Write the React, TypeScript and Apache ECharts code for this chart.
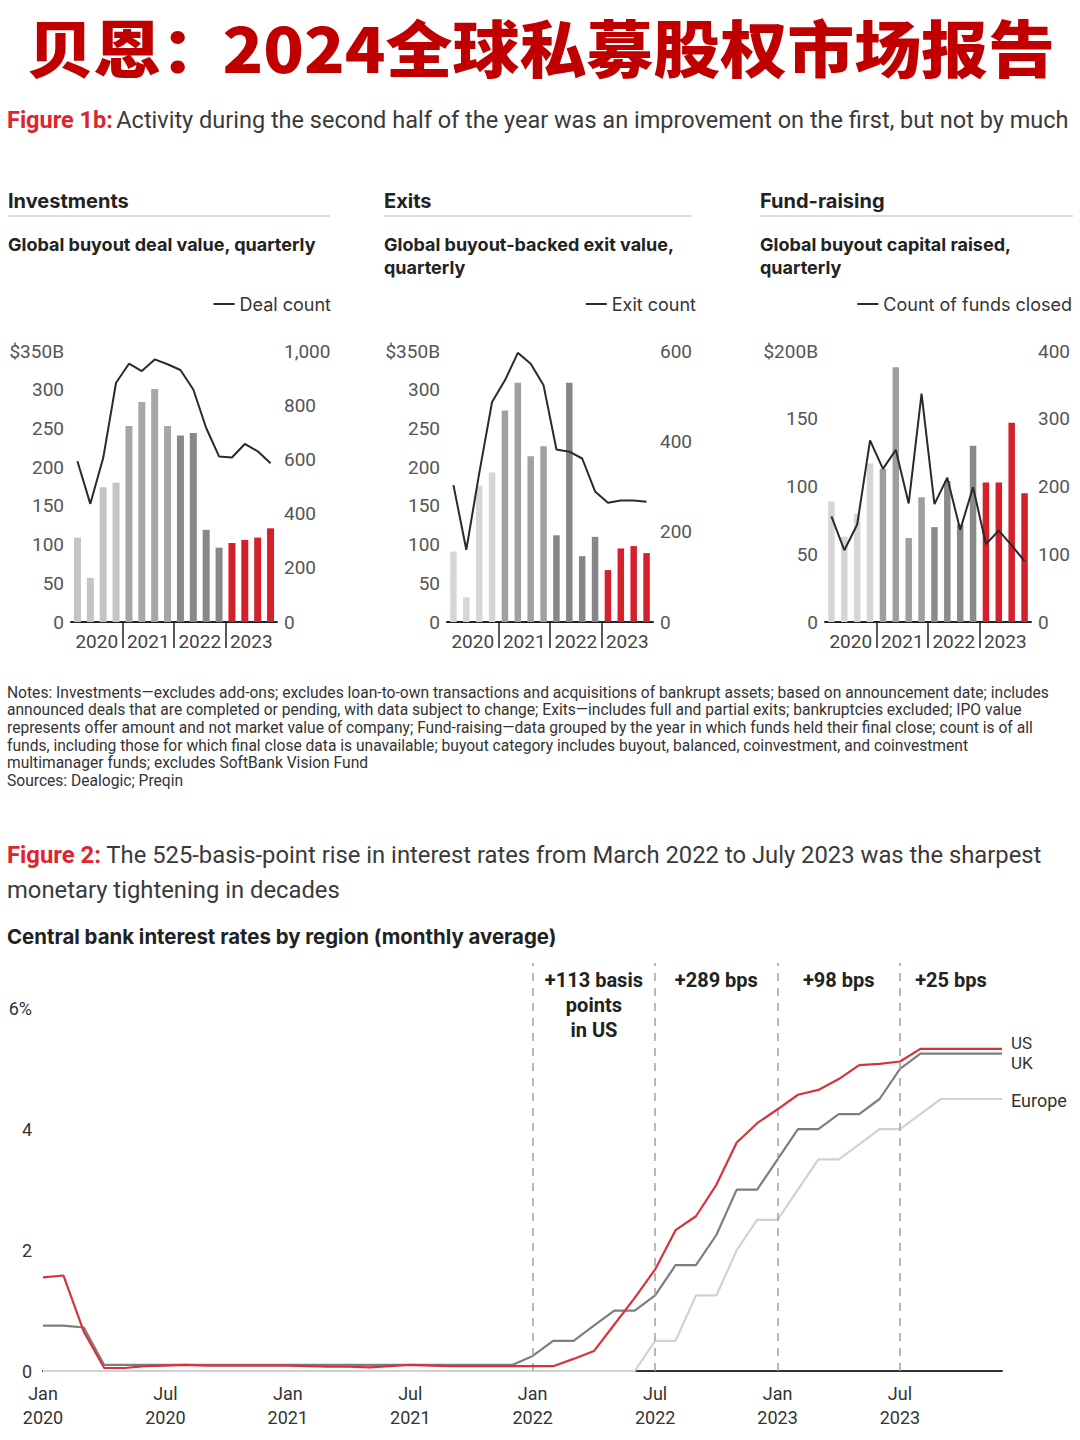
import React, { useEffect, useRef } from 'react';
import * as echarts from 'echarts';

// ---------- data: Figure 1b ----------
const QUARTERS = [
  '2020 Q1', '2020 Q2', '2020 Q3', '2020 Q4',
  '2021 Q1', '2021 Q2', '2021 Q3', '2021 Q4',
  '2022 Q1', '2022 Q2', '2022 Q3', '2022 Q4',
  '2023 Q1', '2023 Q2', '2023 Q3', '2023 Q4',
];
const YEAR_SLOTS = ['s0', '2020', 's2', '2021', 's4', '2022', 's6', '2023', 's8'];

const DEAL_VALUE = [109, 57, 174, 180, 253, 284, 301, 253, 241, 244, 119, 96, 102, 106, 109, 121];
const DEAL_COUNT = [593, 436, 605, 883, 953, 926, 969, 951, 930, 858, 716, 611, 607, 657, 630, 586];
const EXIT_VALUE = [91, 32, 176, 193, 273, 309, 214, 227, 112, 309, 85, 110, 67, 95, 98, 89];
const EXIT_COUNT = [303, 160, 329, 487, 535, 596, 572, 524, 382, 377, 362, 289, 264, 269, 269, 266];
const FUNDS_RAISED = [89, 63, 80, 117, 113, 188, 62, 92, 70, 104, 72, 130, 103, 103, 147, 95];
const FUNDS_COUNT = [156, 106, 144, 268, 226, 254, 175, 337, 174, 213, 136, 199, 115, 135, 113, 90];

// ---------- data: Figure 2 ----------
const MONTHS = [
  'Jan 2020', 'Feb 2020', 'Mar 2020', 'Apr 2020', 'May 2020', 'Jun 2020', 'Jul 2020', 'Aug 2020', 'Sep 2020', 'Oct 2020', 'Nov 2020', 'Dec 2020',
  'Jan 2021', 'Feb 2021', 'Mar 2021', 'Apr 2021', 'May 2021', 'Jun 2021', 'Jul 2021', 'Aug 2021', 'Sep 2021', 'Oct 2021', 'Nov 2021', 'Dec 2021',
  'Jan 2022', 'Feb 2022', 'Mar 2022', 'Apr 2022', 'May 2022', 'Jun 2022', 'Jul 2022', 'Aug 2022', 'Sep 2022', 'Oct 2022', 'Nov 2022', 'Dec 2022',
  'Jan 2023', 'Feb 2023', 'Mar 2023', 'Apr 2023', 'May 2023', 'Jun 2023', 'Jul 2023', 'Aug 2023', 'Sep 2023', 'Oct 2023', 'Nov 2023', 'Dec 2023',
];
const US_RATE = [
  1.55, 1.58, 0.65, 0.05, 0.05, 0.08, 0.09, 0.10, 0.09, 0.09, 0.09, 0.09,
  0.09, 0.08, 0.07, 0.07, 0.06, 0.08, 0.10, 0.09, 0.08, 0.08, 0.08, 0.08,
  0.08, 0.08, 0.20, 0.33, 0.77, 1.21, 1.68, 2.33, 2.56, 3.08, 3.78, 4.10,
  4.33, 4.57, 4.65, 4.83, 5.06, 5.08, 5.12, 5.33, 5.33, 5.33, 5.33, 5.33,
];
const UK_RATE = [
  0.75, 0.75, 0.72, 0.10, 0.10, 0.10, 0.10, 0.10, 0.10, 0.10, 0.10, 0.10,
  0.10, 0.10, 0.10, 0.10, 0.10, 0.10, 0.10, 0.10, 0.10, 0.10, 0.10, 0.10,
  0.25, 0.50, 0.50, 0.75, 1.00, 1.00, 1.25, 1.75, 1.75, 2.25, 3.00, 3.00,
  3.50, 4.00, 4.00, 4.25, 4.25, 4.50, 5.00, 5.25, 5.25, 5.25, 5.25, 5.25,
];
const EUROPE_RATE = [
  0, 0, 0, 0, 0, 0, 0, 0, 0, 0, 0, 0,
  0, 0, 0, 0, 0, 0, 0, 0, 0, 0, 0, 0,
  0, 0, 0, 0, 0, 0, 0.50, 0.50, 1.25, 1.25, 2.00, 2.50,
  2.50, 3.00, 3.50, 3.50, 3.75, 4.00, 4.00, 4.25, 4.50, 4.50, 4.50, 4.50,
];
const PERIODS = [
  { from: 'Jan 2022', to: 'Jul 2022', label: '+113 basis\npoints\nin US' },
  { from: 'Jul 2022', to: 'Jan 2023', label: '+289 bps' },
  { from: 'Jan 2023', to: 'Jul 2023', label: '+98 bps' },
  { from: 'Jul 2023', to: 'Dec 2023', label: '+25 bps' },
];
const DASH_MONTHS = ['Jan 2022', 'Jul 2022', 'Jan 2023', 'Jul 2023'];

const NOTES = [
  'Notes: Investments\u2014excludes add-ons; excludes loan-to-own transactions and acquisitions of bankrupt assets; based on announcement date; includes',
  'announced deals that are completed or pending, with data subject to change; Exits\u2014includes full and partial exits; bankruptcies excluded; IPO value',
  'represents offer amount and not market value of company; Fund-raising\u2014data grouped by the year in which funds held their final close; count is of all',
  'funds, including those for which final close data is unavailable; buyout category includes buyout, balanced, coinvestment, and coinvestment',
  'multimanager funds; excludes SoftBank Vision Fund',
  'Sources: Dealogic; Preqin',
];

const RED = '#d3202b';
const FONT = 'Roboto, "Noto Sans", sans-serif';
const HFONT = 'Inter, Roboto, sans-serif';
const TITLE_FONT = '900 62px "Noto Sans CJK SC"';

const SMALL = [
  {
    left: 71, values: DEAL_VALUE, counts: DEAL_COUNT, lMax: 350, lInt: 50, lTop: '$350B',
    rMax: 1000, rInt: 200, name: 'Deal count', legendRight: 749, barWidth: 7,
    palette: ['#c4c4c4', '#a6a6a6', '#888888', RED],
    heading: 'Investments', sub: 'Global buyout deal value, quarterly', hx: 8, hw: 322,
  },
  {
    left: 447, values: EXIT_VALUE, counts: EXIT_COUNT, lMax: 350, lInt: 50, lTop: '$350B',
    rMax: 600, rInt: 200, name: 'Exit count', legendRight: 384, barWidth: 6.5,
    palette: ['#d6d6d6', '#a0a0a0', '#868686', RED],
    heading: 'Exits', sub: 'Global buyout-backed exit value,\nquarterly', hx: 384, hw: 308,
  },
  {
    left: 825, values: FUNDS_RAISED, counts: FUNDS_COUNT, lMax: 200, lInt: 50, lTop: '$200B',
    rMax: 400, rInt: 100, name: 'Count of funds closed', legendRight: 8, barWidth: 6.5,
    palette: ['#d6d6d6', '#9e9e9e', '#8a8a8a', RED],
    heading: 'Fund-raising', sub: 'Global buyout capital raised,\nquarterly', hx: 760, hw: 313,
  },
];

function buildOption() {
  const grid: any[] = [];
  const xAxis: any[] = [];
  const yAxis: any[] = [];
  const series: any[] = [];
  const legend: any[] = [];
  const graphic: any[] = [];

  SMALL.forEach((c, k) => {
    grid.push({ left: c.left, top: 351, width: 206, height: 271 });
    xAxis.push({
      type: 'category', gridIndex: k, position: 'bottom', data: QUARTERS, boundaryGap: true,
      axisLine: { show: true, lineStyle: { color: '#222', width: 2 } },
      axisTick: { show: false }, axisLabel: { show: false }, splitLine: { show: false },
    });
    xAxis.push({
      type: 'category', gridIndex: k, position: 'bottom', data: YEAR_SLOTS, boundaryGap: false,
      axisLine: { show: false },
      axisTick: {
        show: true, length: 26,
        interval: (i: number) => i % 2 === 0 && i > 0 && i < 8,
        lineStyle: { color: '#222', width: 1.5 },
      },
      axisLabel: {
        interval: (i: number) => i % 2 === 1, margin: 10, fontSize: 19, color: '#444', fontFamily: FONT,
      },
      splitLine: { show: false },
    });
    yAxis.push({
      type: 'value', gridIndex: k, position: 'left', min: 0, max: c.lMax, interval: c.lInt,
      axisLine: { show: false }, axisTick: { show: false }, splitLine: { show: false },
      axisLabel: {
        margin: 7, fontSize: 19, color: '#555', fontFamily: FONT,
        formatter: (v: number) => (v === c.lMax ? c.lTop : String(v)),
      },
    });
    yAxis.push({
      type: 'value', gridIndex: k, position: 'right', min: 0, max: c.rMax, interval: c.rInt,
      axisLine: { show: false }, axisTick: { show: false }, splitLine: { show: false },
      axisLabel: {
        margin: 7, fontSize: 19, color: '#555', fontFamily: FONT,
        formatter: (v: number) => v.toLocaleString('en-US'),
      },
    });
    series.push({
      type: 'bar', name: c.heading + ' value', xAxisIndex: 2 * k, yAxisIndex: 2 * k,
      barWidth: c.barWidth,
      data: c.values.map((v, i) => ({ value: v, itemStyle: { color: c.palette[Math.floor(i / 4)] } })),
    });
    series.push({
      type: 'line', name: c.name, xAxisIndex: 2 * k, yAxisIndex: 2 * k + 1,
      data: c.counts, symbol: 'none', z: 5,
      lineStyle: { color: '#2a2a2a', width: 2 }, itemStyle: { color: '#2a2a2a' },
    });
    legend.push({
      data: [c.name], right: c.legendRight, top: 295, padding: 0, icon: 'rect', itemWidth: 21, itemHeight: 2,
      textStyle: { fontSize: 18, color: '#333', fontFamily: HFONT }, selectedMode: false,
    });
    graphic.push({
      type: 'text', x: c.hx, y: 201,
      style: { text: c.heading, font: `bold 20px ${HFONT}`, fill: '#222', textVerticalAlign: 'middle' },
    });
    graphic.push({
      type: 'line', shape: { x1: c.hx, y1: 216, x2: c.hx + c.hw, y2: 216 },
      style: { stroke: '#d0d0d0', lineWidth: 1.5 },
    });
    graphic.push({
      type: 'text', x: c.hx, y: 233,
      style: { text: c.sub, font: `bold 18px ${HFONT}`, fill: '#222', lineHeight: 23, textVerticalAlign: 'top' },
    });
  });

  // Figure 2 chart
  grid.push({ left: 43, top: 963, width: 959, height: 408 });
  xAxis.push({
    type: 'category', gridIndex: 3, position: 'bottom', data: MONTHS, boundaryGap: false,
    axisLine: { show: true, lineStyle: { color: '#333', width: 2 } },
    axisTick: { show: false }, splitLine: { show: false },
    axisLabel: {
      interval: (i: number) => i % 6 === 0, margin: 10, fontSize: 18, lineHeight: 24, color: '#333',
      fontFamily: FONT, formatter: (v: string) => v.replace(' ', '\n'),
    },
  });
  yAxis.push({
    type: 'value', gridIndex: 3, position: 'left', min: 0, max: 6.75, interval: 2,
    axisLine: { show: false }, axisTick: { show: false }, splitLine: { show: false },
    axisLabel: {
      margin: 11, fontSize: 18, color: '#333', fontFamily: FONT,
      formatter: (v: number) => (v === 6 ? '6%' : v % 2 === 0 ? String(v) : ''),
    },
  });
  series.push({
    type: 'line', name: 'Europe', xAxisIndex: 6, yAxisIndex: 6, data: EUROPE_RATE, symbol: 'none',
    lineStyle: { color: '#d2d2d2', width: 2.2 }, itemStyle: { color: '#d2d2d2' }, z: 3,
    endLabel: { show: true, formatter: 'Europe', color: '#333', fontSize: 18, fontFamily: FONT, distance: 9, offset: [0, 1] },
  });
  series.push({
    type: 'line', name: 'UK', xAxisIndex: 6, yAxisIndex: 6, data: UK_RATE, symbol: 'none',
    lineStyle: { color: '#7e7e7e', width: 2.2 }, itemStyle: { color: '#7e7e7e' }, z: 4,
    endLabel: { show: true, formatter: 'UK', color: '#333', fontSize: 17, fontFamily: FONT, distance: 9, offset: [0, 9] },
  });
  series.push({
    type: 'line', name: 'US', xAxisIndex: 6, yAxisIndex: 6, data: US_RATE, symbol: 'none',
    lineStyle: { color: '#d5343e', width: 2.2 }, itemStyle: { color: '#d5343e' }, z: 5,
    endLabel: { show: true, formatter: 'US', color: '#333', fontSize: 17, fontFamily: FONT, distance: 9, offset: [0, -6] },
    markLine: {
      silent: true, symbol: ['none', 'none'], label: { show: false },
      lineStyle: { color: '#a0a0a0', type: [8, 7], width: 1.5 },
      data: DASH_MONTHS.map((m) => ({ xAxis: m })),
    },
    markArea: {
      silent: true,
      itemStyle: { color: 'rgba(0,0,0,0)' },
      label: {
        show: true, position: 'insideTop', distance: 4, fontSize: 20, fontWeight: 'bold',
        color: '#222', lineHeight: 25, fontFamily: FONT, align: 'center',
      },
      data: PERIODS.map((p) => [{ xAxis: p.from, name: p.label }, { xAxis: p.to }]),
    },
  });

  // page texts (title in two pieces, widened horizontally to match the reference)
  graphic.push({
    type: 'text', x: 27, y: 46, scaleX: 1.08,
    style: {
      text: '贝恩：', font: TITLE_FONT, fill: '#c00000',
      textAlign: 'left', textVerticalAlign: 'middle',
    },
  });
  graphic.push({
    type: 'text', x: 1055, y: 46, scaleX: 1.08,
    style: {
      text: '2024全球私募股权市场报告', font: TITLE_FONT, fill: '#c00000',
      textAlign: 'right', textVerticalAlign: 'middle',
    },
  });
  graphic.push({
    type: 'text', x: 7, y: 120,
    style: {
      text: '{a|Figure 1b:} {b|Activity during the second half of the year was an improvement on the first, but not by much}',
      textVerticalAlign: 'middle',
      rich: {
        a: { fontSize: 23.5, fontWeight: 'bold', fill: '#e0232d', fontFamily: FONT },
        b: { fontSize: 23.5, fill: '#3a3a3a', fontFamily: FONT },
      },
    },
  });
  graphic.push({
    type: 'text', x: 7, y: 684,
    style: { text: NOTES.join('\n'), font: `15.6px ${FONT}`, fill: '#333', lineHeight: 17.6, textVerticalAlign: 'top' },
  });
  graphic.push({
    type: 'text', x: 7, y: 837,
    style: {
      text: '{a|Figure 2:}{b| The 525-basis-point rise in interest rates from March 2022 to July 2023 was the sharpest}\n{b|monetary tightening in decades}',
      textVerticalAlign: 'top',
      rich: {
        a: { fontSize: 23.8, fontWeight: 'bold', fill: '#e0232d', fontFamily: FONT, lineHeight: 35 },
        b: { fontSize: 23.8, fill: '#3a3a3a', fontFamily: FONT, lineHeight: 35 },
      },
    },
  });
  graphic.push({
    type: 'text', x: 7, y: 936,
    style: {
      text: 'Central bank interest rates by region (monthly average)',
      font: `bold 20.4px ${HFONT}`, fill: '#222', textVerticalAlign: 'middle',
    },
  });

  return {
    animation: false,
    backgroundColor: '#ffffff',
    textStyle: { fontFamily: FONT },
    grid, xAxis, yAxis, series, legend, graphic,
  };
}

export default function App() {
  const ref = useRef<HTMLDivElement>(null);
  useEffect(() => {
    if (!ref.current) return;
    const chart = echarts.init(ref.current, null, { renderer: 'svg' });
    chart.setOption(buildOption() as any);
    return () => chart.dispose();
  }, []);
  return (
    <div
      ref={ref}
      style={{ position: 'absolute', left: 0, top: 0, width: 1080, height: 1440, background: '#fff' }}
    />
  );
}
